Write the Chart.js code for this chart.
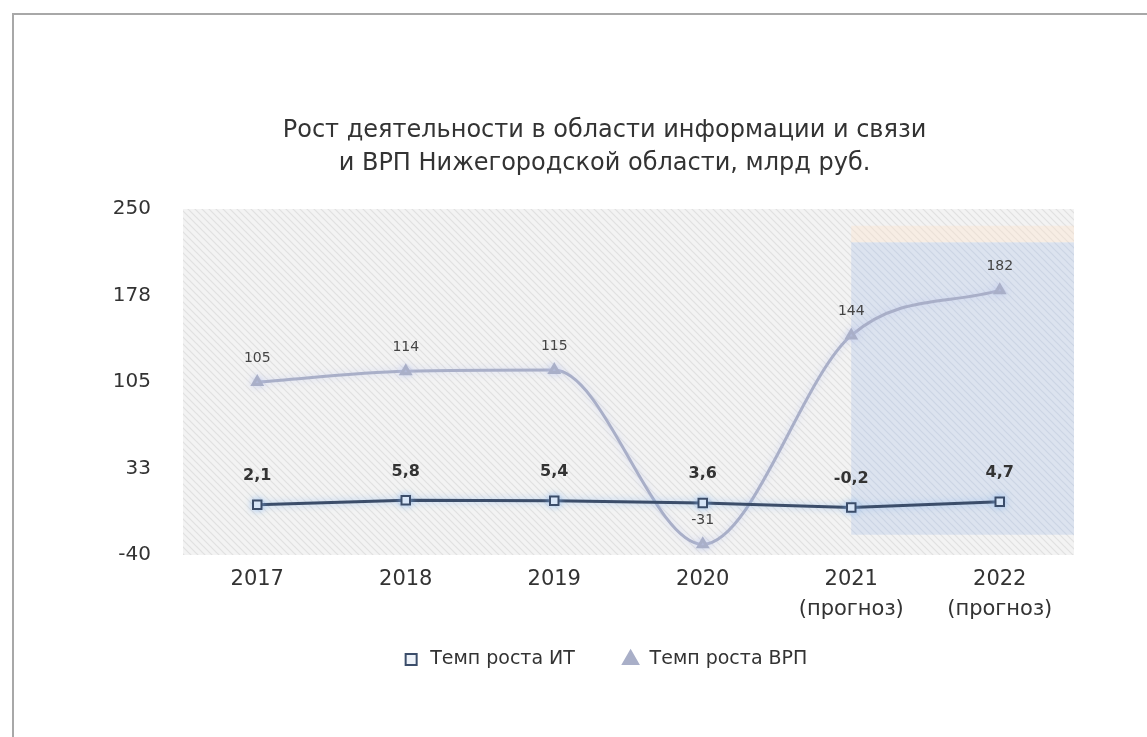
<!DOCTYPE html>
<html lang="ru">
<head>
<meta charset="utf-8">
<title>Рост деятельности в области информации и связи</title>
<script src="https://cdn.jsdelivr.net/npm/chart.js@4/dist/chart.umd.min.js"></script>
<style>
    html, body { margin: 0; padding: 0; background: #fff; }
    #frame {
        position: absolute; left: 12px; top: 13px; width: 1200px; height: 800px;
        border-top: 2px solid #a8a8a8; border-left: 2px solid #a8a8a8;
    }
    #chart { position: absolute; left: 0; top: 0; }
</style>
</head>
<body>
<div id="frame"></div>
<canvas id="chart" width="1147" height="737"></canvas>
<script>
// === ДАННЫЕ ===
const categories = [['2017'], ['2018'], ['2019'], ['2020'], ['2021', '(прогноз)'], ['2022', '(прогноз)']];
const itGrowth = [2.1, 5.8, 5.4, 3.6, -0.2, 4.7];
const grpGrowth = [105, 114, 115, -31, 144, 182];
const yTickLabels = ['-40', '33', '105', '178', '250'];
const forecastStart = 4; // индекс первого прогнозного года

const FONT = '"DejaVu Sans", Verdana, sans-serif';
const IT_COLOR = '#3b4d6a';
const GRP_COLOR = '#a9afc8';

// Штриховка фона области построения
const makeHatch = (ctx, bg, line) => {
    const tile = document.createElement('canvas');
    tile.width = 7;
    tile.height = 7;
    const t = tile.getContext('2d');
    t.fillStyle = bg;
    t.fillRect(0, 0, 7, 7);
    t.strokeStyle = line;
    t.lineWidth = 1.2;
    t.beginPath();
    t.moveTo(-1, -1); t.lineTo(8, 8);
    t.moveTo(-1, 6); t.lineTo(1, 8);
    t.moveTo(6, -1); t.lineTo(8, 1);
    t.stroke();
    return ctx.createPattern(tile, 'repeat');
};

const backgroundPlugin = {
    id: 'hatchBackground',
    beforeDatasetsDraw(chart) {
        const { ctx, chartArea, scales } = chart;
        ctx.save();
        ctx.fillStyle = makeHatch(ctx, '#f3f3f3', '#e0e0e0');
        ctx.fillRect(chartArea.left, chartArea.top, chartArea.width, chartArea.height);

        // прогнозная зона
        const x0 = scales.x.getPixelForValue(forecastStart);
        const yStrip = scales.y.getPixelForValue(236);
        const yTop = scales.y.getPixelForValue(222);
        const yBottom = scales.y.getPixelForValue(-23);
        ctx.fillStyle = 'rgba(255, 225, 200, 0.35)';
        ctx.fillRect(x0, yStrip, chartArea.right - x0, yTop - yStrip);
        ctx.fillStyle = makeHatch(ctx, '#dce3ef', '#ccd5e4');
        ctx.fillRect(x0, yTop, chartArea.right - x0, yBottom - yTop);
        ctx.restore();
    },
    // лёгкое свечение вокруг линий
    beforeDatasetDraw(chart, args) {
        const { ctx } = chart;
        ctx.save();
        ctx.shadowColor = args.index === 0 ? 'rgba(140, 185, 240, 0.7)' : 'rgba(190, 200, 240, 0.6)';
        ctx.shadowBlur = 7;
    },
    afterDatasetDraw(chart) {
        chart.ctx.restore();
    }
};

// Подписи оси Y (шкала ставит их слишком близко к краю и обрезает)
const yLabelsPlugin = {
    id: 'yLabels',
    afterDraw(chart) {
        const { ctx, chartArea } = chart;
        const yScale = chart.scales.y;
        ctx.save();
        ctx.font = `20px ${FONT}`;
        ctx.fillStyle = '#333';
        ctx.textAlign = 'right';
        ctx.textBaseline = 'middle';
        yScale.ticks.forEach((tick, i) => {
            ctx.fillText(yTickLabels[i], chartArea.left - 32, yScale.getPixelForValue(tick.value));
        });
        ctx.restore();
    }
};

// Подписи значений над точками
const valueLabelsPlugin = {
    id: 'valueLabels',
    afterDatasetsDraw(chart) {
        const { ctx } = chart;
        ctx.save();
        ctx.textAlign = 'center';
        ctx.textBaseline = 'middle';
        chart.data.datasets.forEach((ds, i) => {
            const meta = chart.getDatasetMeta(i);
            meta.data.forEach((pt, j) => {
                const v = ds.data[j];
                if (i === 0) {
                    ctx.font = `bold 16px ${FONT}`;
                    ctx.fillStyle = '#333';
                    ctx.fillText(v.toFixed(1).replace('.', ','), pt.x, pt.y - 29);
                } else {
                    ctx.font = `14px ${FONT}`;
                    ctx.fillStyle = '#444';
                    ctx.fillText(String(v), pt.x, pt.y - 24);
                }
            });
        });
        ctx.restore();
    }
};

const ctx = document.getElementById('chart').getContext('2d');
new Chart(ctx, {
    type: 'line',
    data: {
        labels: categories,
        datasets: [
            {
                label: 'Темп роста ИТ',
                data: itGrowth,
                borderColor: IT_COLOR,
                backgroundColor: '#ffffff',
                borderWidth: 3,
                tension: 0,
                pointStyle: 'rect',
                pointRadius: 6,
                pointBorderWidth: 2,
                pointBackgroundColor: '#eef3fa',
                pointBorderColor: IT_COLOR,
                order: 0
            },
            {
                label: 'Темп роста ВРП',
                data: grpGrowth,
                borderColor: GRP_COLOR,
                backgroundColor: GRP_COLOR,
                borderWidth: 3,
                cubicInterpolationMode: 'monotone',
                pointStyle: 'triangle',
                pointRadius: 5,
                pointBackgroundColor: GRP_COLOR,
                pointBorderColor: GRP_COLOR,
                order: 1
            }
        ]
    },
    options: {
        responsive: false,
        animation: false,
        layout: { padding: { left: 135, right: 73, top: 100, bottom: 58 } },
        scales: {
            x: {
                offset: true,
                grid: { display: false },
                border: { display: false },
                ticks: {
                    color: '#333',
                    padding: 2,
                    font: { family: FONT, size: 21, lineHeight: 1.43 },
                    maxRotation: 0
                },
                afterFit: (scale) => { scale.height = 73; }
            },
            y: {
                min: -40,
                max: 250,
                grid: { display: false, drawTicks: false },
                border: { display: false },
                ticks: {
                    display: false,
                    stepSize: 72.5
                },
                afterFit: (scale) => { scale.width = 48; }
            }
        },
        plugins: {
            title: {
                display: true,
                text: ['Рост деятельности в области информации и связи', 'и ВРП Нижегородской области, млрд руб.'],
                color: '#333',
                font: { family: FONT, size: 24, weight: 'normal', lineHeight: 1.375 },
                padding: { top: 14, bottom: 29 }
            },
            legend: {
                position: 'bottom',
                labels: {
                    usePointStyle: true,
                    boxWidth: 19,
                    boxHeight: 11,
                    padding: 22,
                    color: '#333',
                    font: { family: FONT, size: 19, lineHeight: 1.2 },
                    // дополнительный отступ между элементами легенды
                    generateLabels: (chart) => {
                        const items = Chart.defaults.plugins.legend.labels.generateLabels(chart);
                        items.forEach((item, i) => {
                            if (i < items.length - 1) item.text += '\u00a0\u00a0\u00a0\u00a0';
                        });
                        return items;
                    }
                }
            },
            tooltip: { enabled: false }
        }
    },
    plugins: [backgroundPlugin, valueLabelsPlugin, yLabelsPlugin]
});
</script>
</body>
</html>
